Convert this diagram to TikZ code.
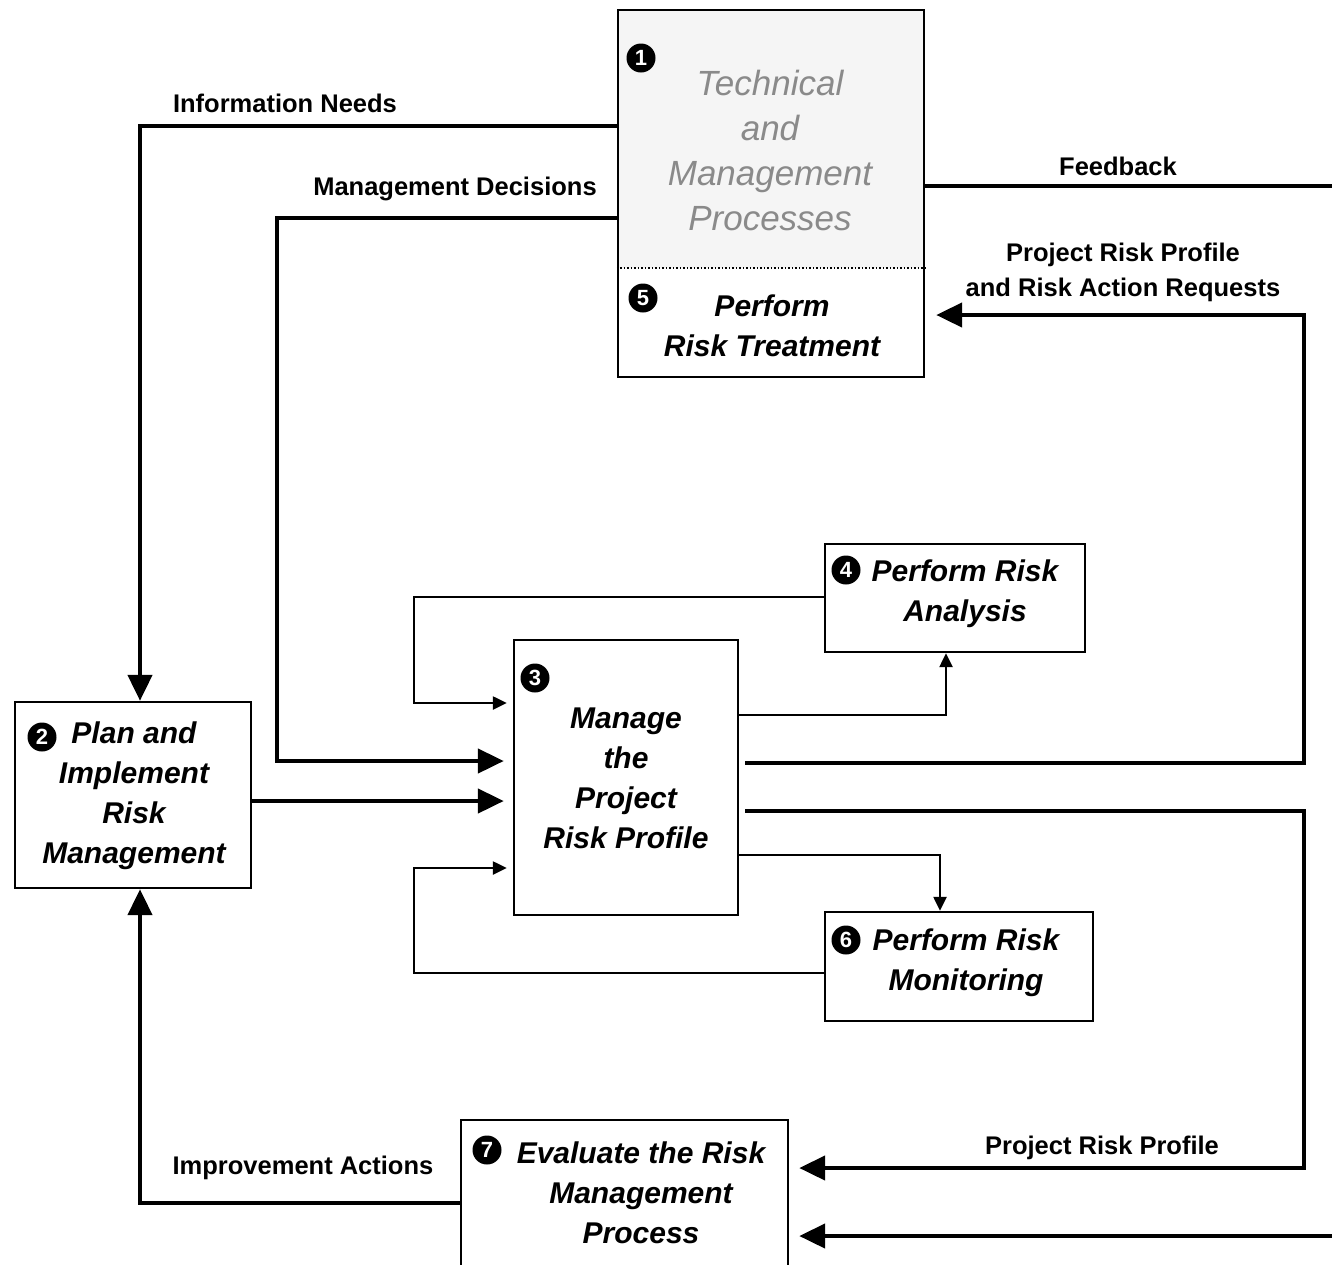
\documentclass[tikz,border=0pt]{standalone}
\usepackage{fontspec}
\setmainfont{Liberation Sans}
\usetikzlibrary{positioning,arrows.meta}
\definecolor{procfill}{HTML}{F5F5F5}
\definecolor{proctext}{HTML}{8A8A8A}

\begin{document}
\begin{tikzpicture}[x=1pt,y=-1pt,
  box/.style={draw,line width=2.4pt,inner sep=0pt},
  boxtext/.style={font=\fontsize{30}{40}\selectfont\bfseries\itshape,align=center,inner sep=0pt},
  badge/.style={circle,fill=black,text=white,inner sep=0pt,minimum size=29pt,font=\fontsize{22}{22}\selectfont\bfseries},
  flow/.style={line width=4.5pt,-{Triangle[length=26pt,width=24pt]}},
  flowline/.style={line width=4.5pt},
  loopback/.style={line width=2.4pt,-{Triangle[length=14pt,width=13pt]}},
  lbl/.style={font=\fontsize{25.5}{35}\selectfont\bfseries,inner sep=0pt}]

  \useasboundingbox (0,0) rectangle (1332,1264);
  \clip (0,0) rectangle (1332,1264);

  % technical and management processes / risk treatment
  \fill[procfill] (618,10) rectangle (924,268);
  \node[box,minimum width=306pt,minimum height=367pt] (techmgmt) at (771,193.5) {};
  \draw[dotted,line width=1.5pt] (techmgmt.west |- 0,268) -- (techmgmt.east |- 0,268);
  \node[font=\fontsize{35}{45}\selectfont\itshape,text=proctext,align=center,inner sep=0pt] (techtext) at (770,150) {Technical\\and\\Management\\Processes};
  \node[boxtext] (treattext) at (772,326) {Perform\\Risk Treatment};
  \node[badge] (b1) at (641,58) {1};
  \node[badge] (b5) at (643,298) {5};

  % process boxes
  \node[box,minimum width=236pt,minimum height=186pt] (plan) at (133,795) {};
  \node[boxtext] (plantext) at (134,796) {Plan and\\Implement\\Risk\\Management};
  \node[badge] (b2) at (42,737) {2};

  \node[box,minimum width=224pt,minimum height=275pt] (manage) at (626,777.5) {};
  \node[boxtext] (managetext) at (626,778) {Manage\\the\\Project\\Risk Profile};
  \node[badge] (b3) at (535,678) {3};

  \node[box,minimum width=260pt,minimum height=108pt] (analysis) at (955,598) {};
  \node[boxtext] (analysistext) at (965,594) {Perform Risk\\Analysis};
  \node[badge] (b4) at (846,570) {4};

  \node[box,minimum width=268pt,minimum height=109pt] (monitor) at (959,966.5) {};
  \node[boxtext] (monitortext) at (966,963) {Perform Risk\\Monitoring};
  \node[badge] (b6) at (846,940) {6};

  \node[box,minimum width=327pt,minimum height=160pt] (evaluate) at (624.5,1200) {};
  \node[boxtext] (evaluatetext) at (641,1193) {Evaluate the Risk\\Management\\Process};
  \node[badge] (b7) at (487,1150) {7};

  % main flows
  \draw[flow] (techmgmt.west |- 0,126) -| ([xshift=7pt]plan.north);
  \draw[flow,shorten >=9pt] (techmgmt.west |- 0,218) -| (277,761) -- (manage.west |- 0,761);
  \draw[flow,shorten >=9pt] (plan.east |- 0,801) -- (manage.west |- 0,801);
  \coordinate (fbout) at (1332,186);
  \draw[flowline] (techmgmt.east |- fbout) -- (fbout);
  \draw[flow,shorten <=6pt,shorten >=11pt] (manage.east |- 0,763) -- (1304,763) |- (techmgmt.east |- 0,315);
  \draw[flow,shorten <=6pt,shorten >=10pt] (manage.east |- 0,811) -- (1304,811) |- (evaluate.east |- 0,1168);
  \coordinate (evin) at (1332,1236);
  \draw[flow,shorten >=10pt] (evin) -- (evaluate.east |- evin);
  \draw[flow] (evaluate.west |- 0,1203) -| ([xshift=7pt]plan.south);

  % analysis and monitoring loops
  \draw[loopback,shorten >=6pt] (analysis.west |- 0,597) -| (414,703) -- (manage.west |- 0,703);
  \draw[loopback] (manage.east |- 0,715) -| ([xshift=-9pt]analysis.south);
  \draw[loopback] (manage.east |- 0,855) -| ([xshift=-19pt]monitor.north);
  \draw[loopback,shorten >=6pt] (monitor.west |- 0,973) -| (414,868) -- (manage.west |- 0,868);

  % labels
  \node[lbl] (infolbl) at (285,103) {Information Needs};
  \node[lbl] (decisionlbl) at (455,189) {Management Decisions};
  \node[lbl] (feedbacklbl) at (1118,166) {Feedback};
  \node[lbl,align=center] (requestlbl) at (1123,272) {Project Risk Profile\\and Risk Action Requests};
  \node[lbl] (profilelbl) at (1102,1148) {Project Risk Profile};
  \node[lbl] (improvelbl) at (303,1168) {Improvement Actions};
\end{tikzpicture}
\end{document}
